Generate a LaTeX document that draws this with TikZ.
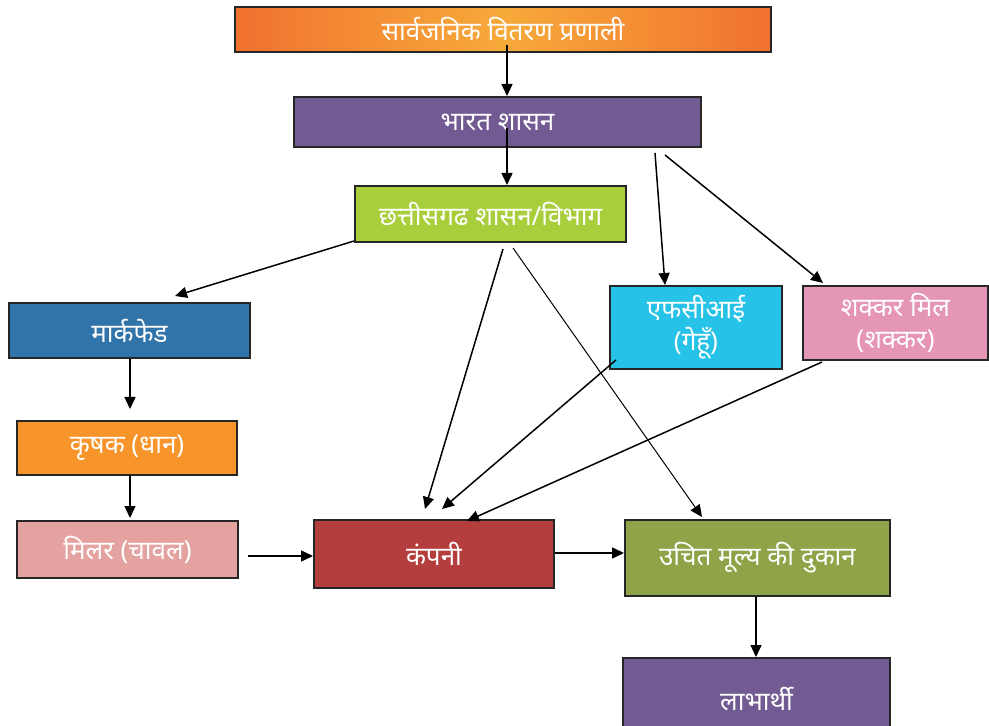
\documentclass[tikz,border=0pt]{standalone}
\usepackage{fontspec}
\setmainfont[Script=Devanagari]{Noto Sans}
\usepackage{tikz}
\usetikzlibrary{arrows.meta}
\definecolor{pdsdark}{HTML}{F1712F}
\definecolor{pdslight}{HTML}{F7AA3A}
\definecolor{govpurple}{HTML}{725B92}
\definecolor{cggreen}{HTML}{A9CE3B}
\definecolor{mfblue}{HTML}{3174AA}
\definecolor{farmorange}{HTML}{F7942A}
\definecolor{millpink}{HTML}{E4A3A0}
\definecolor{cored}{HTML}{B43E3D}
\definecolor{fcicyan}{HTML}{26C2E8}
\definecolor{sugarpink}{HTML}{E595B6}
\definecolor{shopolive}{HTML}{8FA448}

\begin{document}
\begin{tikzpicture}[x=0.5pt,y=-0.5pt,->,>={Triangle[length=6pt,width=5.5pt]},line width=0.75pt,
    box/.style={rectangle,draw=black!85,line width=1pt,text=white,inner sep=2pt,align=center,font=\fontsize{13}{16}\selectfont}]

	\useasboundingbox (0,0) rectangle (989,726);

	\node[box,left color=pdsdark,right color=pdsdark,middle color=pdslight,minimum width=268pt,minimum height=22.5pt] (pds) at (503,29.5) {सार्वजनिक वितरण प्रणाली};
	\node[box,fill=govpurple,minimum width=203.5pt,minimum height=25pt] (goi) at (497.5,122) {भारत शासन};
	\node[box,fill=cggreen,minimum width=135.5pt,minimum height=28pt] (cg) at (490.5,214) {छत्तीसगढ शासन/विभाग};
	\node[box,fill=mfblue,minimum width=120.5pt,minimum height=27.5pt] (markfed) at (129.5,330.5) {मार्कफेड};
	\node[box,fill=farmorange,minimum width=110pt,minimum height=27pt] (farmer) at (127,448) {कृषक (धान)};
	\node[box,fill=millpink,minimum width=110.5pt,minimum height=28.5pt] (miller) at (127.5,549.5) {मिलर (चावल)};
	\node[box,fill=cored,minimum width=120pt,minimum height=34pt] (company) at (434,554) {कंपनी};
	\node[box,fill=fcicyan,minimum width=86pt,minimum height=41.5pt] (fci) at (696,327.5) {एफसीआई\\(गेहूँ)};
	\node[box,fill=sugarpink,minimum width=92.5pt,minimum height=37pt] (sugar) at (895.5,323) {शक्कर मिल\\(शक्कर)};
	\node[box,fill=shopolive,minimum width=132.5pt,minimum height=38pt] (shop) at (757.5,558) {उचित मूल्य की दुकान};
	\node[box,fill=govpurple,minimum width=133.5pt,minimum height=41pt] (benef) at (756.5,699) {लाभार्थी};

	\path
	([xshift=2pt,yshift=-8pt]pds.center) edge ([xshift=4.75pt]goi.north)
	([xshift=4.75pt,yshift=-3pt]goi.center) edge ([xshift=8.25pt]cg.north)
	([xshift=78.75pt,yshift=-2.5pt]goi.south) edge ([xshift=-15.5pt]fci.north)
	([xshift=83.75pt,yshift=-3.5pt]goi.south) edge ([xshift=-36.25pt,yshift=1pt]sugar.north)

	([yshift=1pt]cg.south west) edge ([xshift=22.75pt,yshift=3pt]markfed.north)
	([xshift=6.25pt,yshift=-3pt]cg.south) edge ([xshift=-4.5pt,yshift=5pt]company.north)
	([xshift=11.25pt,yshift=-2.5pt]cg.south) edge[line width=0.5pt] ([xshift=-27.75pt,yshift=1pt]shop.north)
	([xshift=3.5pt,yshift=5pt]fci.south west) edge ([xshift=4pt,yshift=5pt]company.north)
	([xshift=10pt,yshift=-0.5pt]sugar.south west) edge ([xshift=16.5pt,yshift=-1pt]company.north)

	([xshift=0.25pt]markfed.south) edge ([xshift=1.5pt,yshift=5.5pt]farmer.north)
	([xshift=1.5pt]farmer.south) edge ([xshift=1.25pt,yshift=1pt]miller.north)
	([xshift=4.5pt,yshift=-3.25pt]miller.east) edge ([yshift=-1pt]company.west)
	([yshift=0.5pt]company.east) edge ([yshift=2.5pt]shop.west)
	([xshift=-0.75pt]shop.south) edge ([xshift=-0.25pt]benef.north);

\end{tikzpicture}
\end{document}
